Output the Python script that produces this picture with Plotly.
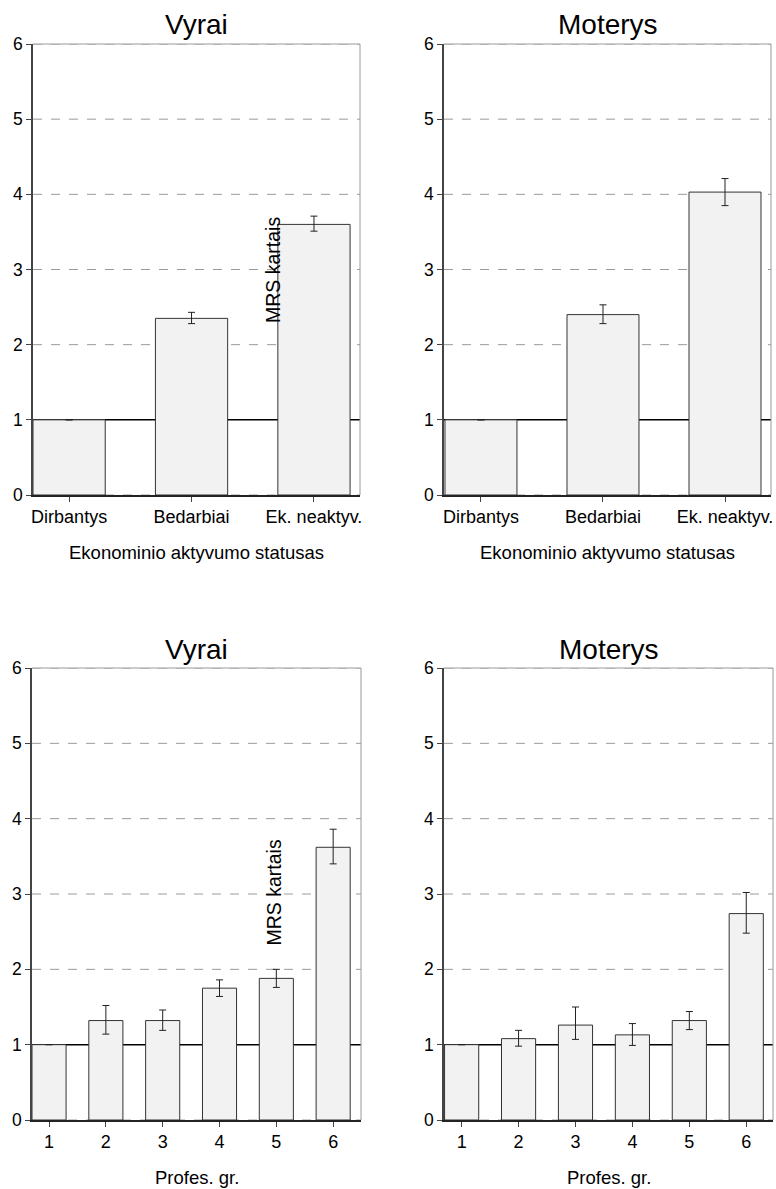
import plotly.graph_objects as go

# ---- data ----
status_categories = ["Dirbantys", "Bedarbiai", "Ek. neaktyv."]
men_status = [1.0, 2.35, 3.60]
men_status_upper = [1.0, 2.43, 3.71]
men_status_lower = [1.0, 2.28, 3.51]
women_status = [1.0, 2.40, 4.03]
women_status_upper = [1.0, 2.53, 4.21]
women_status_lower = [1.0, 2.28, 3.85]

prof_categories = ["1", "2", "3", "4", "5", "6"]
men_prof = [1.0, 1.32, 1.32, 1.75, 1.88, 3.62]
men_prof_upper = [1.0, 1.52, 1.46, 1.86, 2.00, 3.86]
men_prof_lower = [1.0, 1.14, 1.19, 1.64, 1.76, 3.40]
women_prof = [1.0, 1.08, 1.26, 1.13, 1.32, 2.74]
women_prof_upper = [1.0, 1.19, 1.50, 1.28, 1.44, 3.02]
women_prof_lower = [1.0, 0.98, 1.07, 0.99, 1.20, 2.48]

panel_titles = ["Vyrai", "Moterys", "Vyrai", "Moterys"]
status_axis_title = "Ekonominio aktyvumo statusas"
prof_axis_title = "Profes. gr."
y_axis_title = "MRS kartais"
y_ticks = [0, 1, 2, 3, 4, 5, 6]
reference_level = 1

W, H = 776, 1189
FONT = "Liberation Sans, Arial, sans-serif"

def px_x(p):
    return p / W

def px_y(p):
    return 1 - p / H

# panel geometry in pixels: (left, right, top, bottom)
panels = [
    (33, 360, 44, 495),
    (444, 771, 44, 495),
    (32, 361, 668, 1120),
    (444, 773, 668, 1120),
]

series = [
    (status_categories, men_status, men_status_upper, men_status_lower, 0.59, [-0.295, 2.376]),
    (status_categories, women_status, women_status_upper, women_status_lower, 0.59, [-0.303, 2.377]),
    (prof_categories, men_prof, men_prof_upper, men_prof_lower, 0.6, [-0.3, 5.49]),
    (prof_categories, women_prof, women_prof_upper, women_prof_lower, 0.6, [-0.31, 5.47]),
]

fig = go.Figure()
layout = dict(
    width=W, height=H, autosize=False, margin=dict(l=0, r=0, t=0, b=0, pad=0),
    paper_bgcolor="white", plot_bgcolor="white", showlegend=False,
    font=dict(family=FONT, color="black"),
)
shapes = []
annotations = []

for i, ((cats, vals, up, lo, bw, xr), (l, r, t, b)) in enumerate(zip(series, panels)):
    n = i + 1
    xa = "x" if n == 1 else f"x{n}"
    ya = "y" if n == 1 else f"y{n}"
    xpos = list(range(len(cats)))
    fig.add_trace(go.Bar(
        x=xpos, y=vals, width=bw, xaxis=xa, yaxis=ya,
        marker=dict(color="#f2f2f2", line=dict(color="#333333", width=1)),
        error_y=dict(type="data", symmetric=False,
                     array=[u - v for u, v in zip(up, vals)],
                     arrayminus=[v - d for v, d in zip(vals, lo)],
                     color="#222222", thickness=1, width=3.5),
        hoverinfo="skip",
    ))
    xkey = "xaxis" if n == 1 else f"xaxis{n}"
    ykey = "yaxis" if n == 1 else f"yaxis{n}"
    layout[xkey] = dict(
        domain=[px_x(l), px_x(r)], anchor=ya, range=xr, automargin=False,
        tickmode="array", tickvals=xpos, ticktext=cats,
        showgrid=False, zeroline=False,
        showline=True, linecolor="#222222", linewidth=1.5,
        ticks="outside", ticklen=5, tickcolor="#444444", tickwidth=1,
        tickfont=dict(size=18, family=FONT, color="black"),
        fixedrange=True,
    )
    layout[ykey] = dict(
        domain=[px_y(b), px_y(t)], anchor=xa, range=[0, 6], automargin=False,
        tickmode="array", tickvals=y_ticks,
        showgrid=False, zeroline=False,
        showline=True, linecolor="#444444", linewidth=1.5,
        ticks="outside", ticklen=5, tickcolor="#444444", tickwidth=1,
        tickfont=dict(size=17.5, family=FONT, color="black"),
        fixedrange=True,
    )
    # dashed gridlines (below bars)
    for yv in y_ticks:
        if yv == reference_level:
            continue
        shapes.append(dict(type="line", xref=f"{xa} domain", yref=ya,
                           x0=0, x1=1, y0=yv, y1=yv, layer="below",
                           line=dict(color="#9a9a9a", width=1, dash="dash")))
    # reference line at 1 (below bars)
    shapes.append(dict(type="line", xref=f"{xa} domain", yref=ya,
                       x0=0, x1=1, y0=reference_level, y1=reference_level, layer="below",
                       line=dict(color="black", width=1.5)))
    # light frame on top and right
    shapes.append(dict(type="line", xref=f"{xa} domain", yref=f"{ya} domain",
                       x0=0, x1=1, y0=1, y1=1, layer="above",
                       line=dict(color="#9a9a9a", width=1)))
    shapes.append(dict(type="line", xref=f"{xa} domain", yref=f"{ya} domain",
                       x0=1, x1=1, y0=0, y1=1, layer="above",
                       line=dict(color="#9a9a9a", width=1)))
    # panel title
    annotations.append(dict(text=panel_titles[i], x=px_x((l + r) / 2), y=px_y(t - 19),
                            xref="paper", yref="paper", xanchor="center", yanchor="middle",
                            showarrow=False, font=dict(size=28, family=FONT, color="black")))
    # x axis title
    annotations.append(dict(text=status_axis_title if i < 2 else prof_axis_title,
                            x=px_x((l + r) / 2), y=px_y(b + 57),
                            xref="paper", yref="paper", xanchor="center", yanchor="middle",
                            showarrow=False, font=dict(size=18.5, family=FONT, color="black")))

# y axis titles (misplaced inside the left panels as in the original)
for ycen in (270, 892.5):
    annotations.append(dict(text=y_axis_title, x=px_x(273), y=px_y(ycen),
                            xref="paper", yref="paper", xanchor="center", yanchor="middle",
                            textangle=-90, showarrow=False,
                            font=dict(size=19.5, family=FONT, color="black")))

layout["shapes"] = shapes
layout["annotations"] = annotations
fig.update_layout(**layout)
fig.write_html(
    "out.html",
    config={"displayModeBar": False, "responsive": False},
    post_script=(
        "var gd=document.getElementsByClassName('plotly-graph-div')[0];"
        "gd.style.position='fixed';gd.style.left='0px';gd.style.top='0px';"
        "document.body.style.margin='0';document.body.style.padding='0';"
        "document.documentElement.style.overflow='hidden';"
        "document.body.style.overflow='hidden';"
    ),
)
